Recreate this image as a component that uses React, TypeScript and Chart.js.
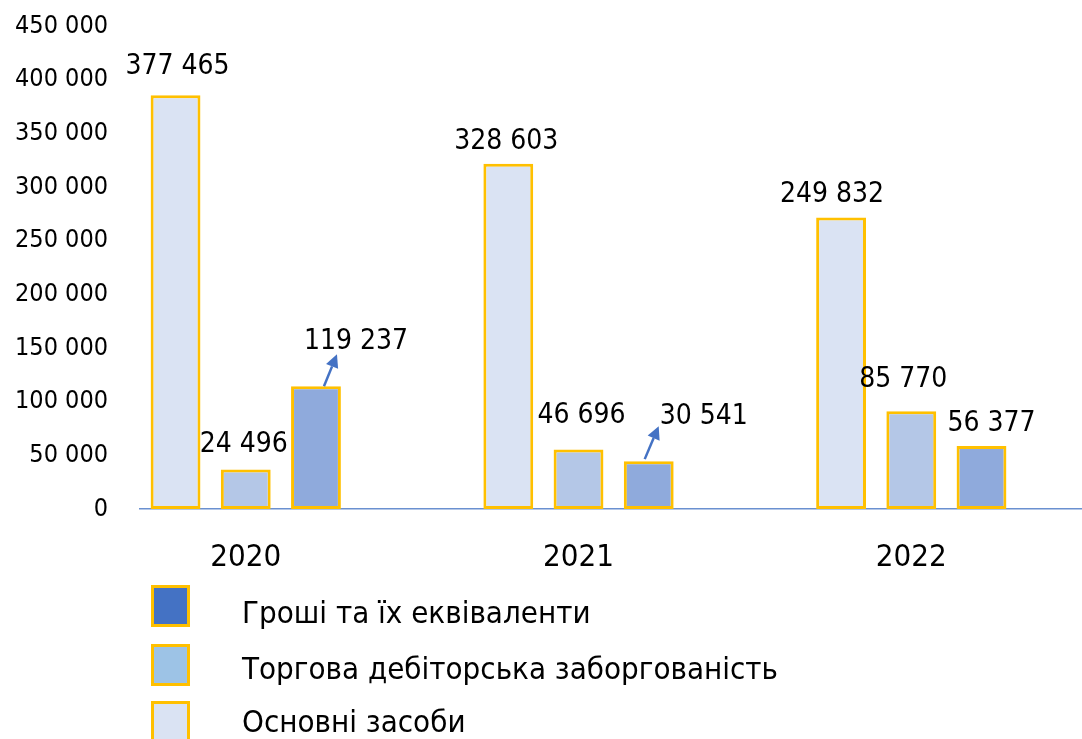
import React, { useEffect, useRef } from 'react';
import { Chart, registerables } from 'chart.js';

Chart.register(...registerables);

const FONT = "'DejaVu Sans Condensed', 'Noto Sans', sans-serif";

// Categories
const years = ['2020', '2021', '2022'];

// Series names (left-to-right order of bars in each group)
const seriesNames = [
  'Основні засоби',
  'Торгова дебіторська заборгованість',
  'Гроші та їх еквіваленти',
];

// Bar heights as drawn in the picture
const fixedAssets = [385400, 321600, 271700];
const tradeReceivables = [36900, 55500, 91100];
const cashEquivalents = [114300, 44600, 58600];

// Printed value labels
const fixedAssetsLabels = [377465, 328603, 249832];
const tradeReceivablesLabels = [24496, 46696, 85770];
const cashEquivalentsLabels = [119237, 30541, 56377];

// Y axis
const yMin = 0;
const yMax = 450000;
const yStep = 50000;

const barColors = ['#DAE3F3', '#B4C7E7', '#8FAADC'];
const legendColors = ['#DAE3F3', '#9DC3E6', '#4472C4'];
const BORDER = '#FFC000';

const fmt = (n: number) => String(Math.round(n)).replace(/\B(?=(\d{3})+(?!\d))/g, ' ');

// label placement relative to bar top-centre [dx, dy to label centre]
const labelOffsets = [
  [[2, -32], [-2, -25], [-9, -26]],
  [[-2, -28], [3, -37], [-8, -34]],
  [[40, -48], [55, -47], [10, -25]],
];
// leader arrows: [datasetIndex, index, fromDx, fromDy, toDx, toDy]
const arrows = [
  [2, 0, 8, 0, 21, -32],
  [2, 1, -4, -2, 10, -35],
];

const valueLabelsPlugin = {
  id: 'valueLabels',
  afterDatasetsDraw(chart: any) {
    const ctx = chart.ctx;
    const labelSets = [fixedAssetsLabels, tradeReceivablesLabels, cashEquivalentsLabels];
    const size = 28;
    ctx.save();
    ctx.font = `${size}px ${FONT}`;
    ctx.fillStyle = '#000';
    ctx.textAlign = 'center';
    ctx.textBaseline = 'alphabetic';
    labelSets.forEach((vals, d) => {
      const meta = chart.getDatasetMeta(d);
      vals.forEach((v, i) => {
        const el = meta.data[i];
        if (!el) return;
        const [dx, dy] = labelOffsets[d][i];
        ctx.fillText(fmt(v), el.x + dx, el.y + dy + size * 0.365);
      });
    });
    // arrows
    ctx.strokeStyle = '#4472C4';
    ctx.fillStyle = '#4472C4';
    ctx.lineWidth = 2.5;
    arrows.forEach(([d, i, fx, fy, tx, ty]) => {
      const el = chart.getDatasetMeta(d).data[i];
      if (!el) return;
      const x1 = el.x + fx, y1 = el.y + fy, x2 = el.x + tx, y2 = el.y + ty;
      const ang = Math.atan2(y2 - y1, x2 - x1);
      const head = 13;
      const hw = 6.5;
      const bx = x2 - head * Math.cos(ang);
      const by = y2 - head * Math.sin(ang);
      ctx.beginPath();
      ctx.moveTo(x1, y1);
      ctx.lineTo(bx, by);
      ctx.stroke();
      ctx.beginPath();
      ctx.moveTo(x2, y2);
      ctx.lineTo(bx + hw * Math.sin(ang), by - hw * Math.cos(ang));
      ctx.lineTo(bx - hw * Math.sin(ang), by + hw * Math.cos(ang));
      ctx.closePath();
      ctx.fill();
    });
    ctx.restore();
  },
};

const sideLegendPlugin = {
  id: 'stackedLegend',
  afterDraw(chart: any) {
    const ctx = chart.ctx;
    const order = [2, 1, 0];
    const boxX = 151, boxW = 39, boxH = 42;
    const boxTops = [585, 644, 701];
    const textX = 242;
    const baselines = [623, 679, 732];
    ctx.save();
    ctx.font = `31px ${FONT}`;
    ctx.textAlign = 'left';
    ctx.textBaseline = 'alphabetic';
    order.forEach((d, k) => {
      ctx.fillStyle = legendColors[d];
      ctx.fillRect(boxX, boxTops[k], boxW, boxH);
      ctx.strokeStyle = BORDER;
      ctx.lineWidth = 3;
      ctx.strokeRect(boxX + 1.5, boxTops[k] + 1.5, boxW - 3, boxH - 3);
      ctx.fillStyle = '#000';
      ctx.fillText(chart.data.datasets[d].label, textX, baselines[k]);
    });
    ctx.restore();
  },
};

export default function App() {
  const canvasRef = useRef<HTMLCanvasElement>(null);

  useEffect(() => {
    document.body.style.margin = '0';
    const canvas = canvasRef.current;
    if (!canvas) return;
    const seriesValues = [fixedAssets, tradeReceivables, cashEquivalents];
    const chart = new Chart(canvas, {
      type: 'bar',
      data: {
        datasets: seriesValues.map((vals, d) => ({
          label: seriesNames[d],
          data: vals.map((y, i) => ({ x: i, y })),
          backgroundColor: barColors[d],
          borderColor: BORDER,
          borderWidth: 3,
          borderSkipped: false,
          categoryPercentage: 0.633,
          barPercentage: 0.71,
        })),
      },
      options: {
        animation: false,
        responsive: true,
        maintainAspectRatio: false,
        devicePixelRatio: 1,
        layout: { padding: { top: 26, bottom: 164, left: 0, right: 0 } },
        plugins: {
          legend: { display: false },
          tooltip: { enabled: false },
          title: { display: false },
        },
        scales: {
          x: {
            type: 'linear',
            offset: false,
            min: -0.3178,
            max: 2.513,
            afterBuildTicks: (s: any) => {
              s.ticks = years.map((_, i) => ({ value: i }));
            },
            afterFit: (s: any) => {
              s.height = 66;
              s.paddingLeft = 0;
              s.paddingRight = 0;
            },
            grid: { display: false, drawTicks: false, offset: false },
            border: { display: true, color: '#6A90D0', width: 1.5 },
            ticks: {
              callback: (v: any) => years[v] ?? '',
              font: { family: FONT, size: 31 },
              color: '#000',
              padding: 30,
              maxRotation: 0,
              autoSkip: false,
            },
          },
          y: {
            min: yMin,
            max: yMax,
            afterFit: (s: any) => {
              s.width = 140;
              s.paddingTop = 0;
              s.paddingBottom = 0;
            },
            grid: { display: false, drawTicks: false },
            border: { display: false },
            ticks: {
              stepSize: yStep,
              callback: (v: any) => fmt(Number(v)),
              font: { family: FONT, size: 25 },
              color: '#000',
              padding: 32,
            },
          },
        },
      },
      plugins: [valueLabelsPlugin, sideLegendPlugin],
    } as any);
    return () => chart.destroy();
  }, []);

  return (
    <div style={{ position: 'relative', width: '1082px', height: '739px', background: '#fff' }}>
      <canvas ref={canvasRef} />
    </div>
  );
}
